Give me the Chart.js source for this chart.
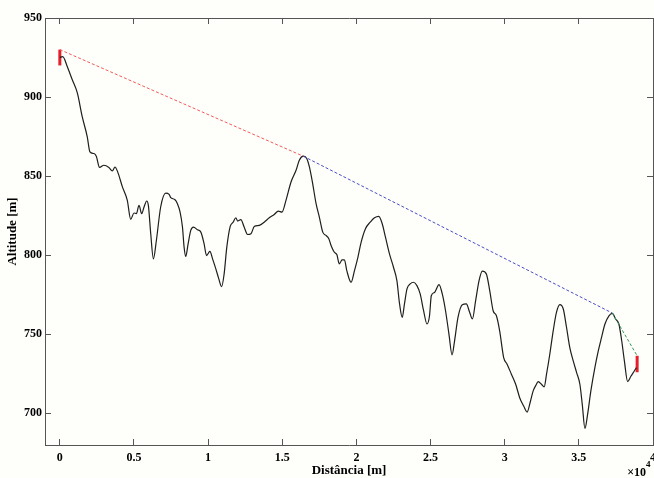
<!DOCTYPE html>
<html>
<head>
<meta charset="utf-8">
<script src="https://cdn.jsdelivr.net/npm/chart.js@4"></script>
<style>
  body { margin: 0; background: #fefefb; }
  #wrap { width: 654px; height: 478px; position: relative; }
</style>
</head>
<body>
<div id="wrap"><canvas id="perfil"></canvas></div>
<script>
// Perfil do terreno (distância em m, altitude em m)
const distancia = [
    0, 200, 500, 840, 1180, 1510, 1850, 2030, 2300, 2460, 2680, 2970, 3310, 3540, 3720, 3900,
    4220, 4550, 4780, 5000, 5160, 5340, 5520, 5680, 5860, 5970, 6130, 6310, 6510, 6800, 7140,
    7370, 7480, 7750, 7930, 8110, 8270, 8380, 8490, 8650, 8830, 9010, 9280, 9510, 9730, 9890,
    10120, 10300, 10520, 10700, 10910, 11080, 11260, 11490, 11690, 11870, 11990, 12210, 12430,
    12660, 12890, 13110, 13450, 13780, 14120, 14460, 14730, 14980, 15250, 15590, 15930, 16150,
    16420, 16650, 16830, 17050, 17280, 17500, 17730, 17950, 18140, 18290, 18510, 18680, 18850,
    19030, 19190, 19350, 19640, 19870, 20100, 20320, 20610, 20930, 21220, 21510, 21740, 21960,
    22230, 22500, 22730, 22910, 23090, 23240, 23410, 23630, 23850, 24080, 24300, 24530, 24760,
    24930, 25050, 25270, 25570, 25790, 26010, 26240, 26450, 26620, 26850, 27140, 27410, 27640,
    27820, 28040, 28270, 28490, 28760, 28990, 29220, 29440, 29660, 29930, 30160, 30450, 30740,
    31010, 31280, 31510, 31740, 31920, 32140, 32260, 32480, 32660, 32820, 33040, 33270, 33490,
    33720, 33950, 34170, 34390, 34620, 34850, 35070, 35230, 35410, 35590, 35810, 36080, 36310,
    36530, 36760, 37030, 37260, 37480, 37700, 37890, 38070, 38290, 38510, 38740, 38880
];
const altitude = [
    925.0, 925.6, 919.3, 910.9, 902.6, 887.6, 874.9, 865.4, 864.3, 862.6, 855.5, 856.9, 855.5,
    853.3, 855.8, 852.7, 843.2, 834.7, 822.7, 826.7, 826.3, 831.5, 826.3, 830.5, 834.3, 831.5,
    813.6, 797.7, 809.3, 830.5, 839.3, 838.5, 836.4, 835.2, 832.6, 827.3, 817.8, 805.1, 799.2,
    807.2, 815.7, 817.8, 816.1, 814.6, 807.2, 799.8, 802.4, 797.7, 791.4, 785.7, 780.1, 788.2,
    805.1, 818.2, 820.9, 823.7, 821.6, 822.5, 817.8, 813.1, 813.6, 818.2, 818.9, 820.9, 823.7,
    825.8, 827.9, 827.3, 834.7, 846.3, 853.7, 860.1, 862.6, 861.2, 855.8, 845.3, 832.6, 824.1,
    814.6, 812.5, 810.4, 806.2, 801.9, 800.4, 794.5, 797.1, 797.1, 790.3, 782.9, 790.3, 798.7,
    808.3, 816.8, 820.9, 823.7, 824.6, 819.9, 811.4, 800.9, 792.4, 783.9, 769.2, 760.7, 769.2,
    778.7, 781.9, 782.9, 780.8, 775.5, 764.9, 756.5, 761.7, 774.4, 776.5, 781.4, 775.5, 764.9,
    750.1, 737.0, 745.9, 760.7, 768.7, 769.2, 763.8, 759.7, 771.3, 783.9, 789.9, 788.2, 777.6,
    764.9, 761.7, 752.2, 735.3, 731.1, 724.8, 718.4, 709.9, 704.6, 700.8, 707.8, 714.2, 718.4,
    720.1, 718.4, 716.7, 724.8, 737.4, 752.2, 763.8, 768.7, 766.0, 754.3, 741.6, 733.2, 725.8,
    718.4, 705.7, 690.5, 699.4, 714.2, 728.9, 739.5, 748.0, 756.5, 761.7, 763.2, 759.7, 756.5,
    745.9, 733.2, 720.1, 723.5, 726.8, 728.9
];

// Linha de visada (vértices do envelope)
const visadaX = [0, 16420, 37260, 38930];
const visadaY = [930, 862.6, 763.4, 736.4];

// Marcadores dos extremos
const inicioX = [0, 0];
const inicioY = [920, 930];
const fimX = [38930, 38930];
const fimY = [726, 736.4];

const xTicks = [0, 5000, 10000, 15000, 20000, 25000, 30000, 35000, 40000];
const yTicks = [700, 750, 800, 850, 900, 950];

const toPts = (xs, ys) => xs.map((x, i) => ({ x: x, y: ys[i] }));

const fonte = { family: 'Liberation Serif', size: 12, weight: 'bold' };
const fonteTitulo = { family: 'Liberation Serif', size: 13, weight: 'bold' };
const corEixo = '#555';

function segmento(i, cor) {
    return {
        data: toPts(visadaX.slice(i, i + 2), visadaY.slice(i, i + 2)),
        borderColor: cor,
        borderWidth: 1,
        borderDash: [3, 2],
        pointRadius: 0
    };
}

// texto "×10^4" abaixo do eixo x
const expoente = {
    id: 'expoente',
    afterDraw(chart) {
        const ctx = chart.ctx;
        const a = chart.chartArea;
        ctx.save();
        ctx.fillStyle = '#000';
        ctx.textBaseline = 'middle';
        ctx.font = 'bold 12px "Liberation Serif"';
        ctx.textAlign = 'right';
        ctx.fillText('\u00d710', a.right - 7, a.bottom + 28);
        ctx.font = 'bold 9px "Liberation Serif"';
        ctx.textAlign = 'left';
        ctx.fillText('4', a.right - 7, a.bottom + 20);
        ctx.restore();
    }
};

new Chart(document.getElementById('perfil'), {
    type: 'line',
    data: {
        datasets: [
            segmento(0, '#f05a5a'),
            segmento(1, '#4b4bc6'),
            segmento(2, '#2f9a52'),
            {
                data: toPts(distancia, altitude),
                borderColor: '#1e1e1e',
                borderWidth: 1.2,
                pointRadius: 0,
                cubicInterpolationMode: 'monotone'
            },
            { data: toPts(inicioX, inicioY), borderColor: '#e3202c', borderWidth: 3, pointRadius: 0 },
            { data: toPts(fimX, fimY), borderColor: '#e3202c', borderWidth: 3, pointRadius: 0 }
        ]
    },
    options: {
        responsive: true,
        maintainAspectRatio: false,
        animation: false,
        layout: { padding: { top: 18, right: 1, left: 0, bottom: 0 } },
        plugins: { legend: { display: false }, tooltip: { enabled: false } },
        scales: {
            x: {
                type: 'linear', min: -1000, max: 40000,
                afterBuildTicks: s => { s.ticks = xTicks.map(v => ({ value: v })); },
                afterFit: s => { s.height = 33; s.paddingLeft = 0; s.paddingRight = 0; },
                ticks: { font: fonte, color: '#000', padding: 12, maxRotation: 0, autoSkip: false,
                         callback: v => v / 10000 },
                grid: { drawOnChartArea: false, tickLength: -6, color: corEixo },
                border: { color: corEixo },
                title: { display: true, text: 'Distância [m]', font: fonteTitulo, color: '#000',
                         padding: { top: 0, bottom: 0 } }
            },
            x2: {
                type: 'linear', position: 'top', min: -1000, max: 40000,
                afterBuildTicks: s => { s.ticks = xTicks.map(v => ({ value: v })); },
                afterFit: s => { s.height = 0; s.paddingLeft = 0; s.paddingRight = 0; },
                ticks: { display: false },
                grid: { drawOnChartArea: false, tickLength: -6, color: corEixo },
                border: { color: corEixo }
            },
            y: {
                type: 'linear', min: 680, max: 950,
                afterBuildTicks: s => { s.ticks = yTicks.map(v => ({ value: v })); },
                afterFit: s => { s.width = 45; },
                ticks: { font: fonte, color: '#000', padding: 9 },
                grid: { drawOnChartArea: false, tickLength: -6, color: corEixo },
                border: { color: corEixo },
                title: { display: true, text: 'Altitude [m]', font: fonteTitulo, color: '#000',
                         padding: { top: 5, bottom: 0 } }
            },
            y2: {
                type: 'linear', position: 'right', min: 680, max: 950,
                afterBuildTicks: s => { s.ticks = yTicks.map(v => ({ value: v })); },
                afterFit: s => { s.width = 0; },
                ticks: { display: false },
                grid: { drawOnChartArea: false, tickLength: -6, color: corEixo },
                border: { color: corEixo }
            }
        }
    },
    plugins: [expoente]
});
</script>
</body>
</html>
